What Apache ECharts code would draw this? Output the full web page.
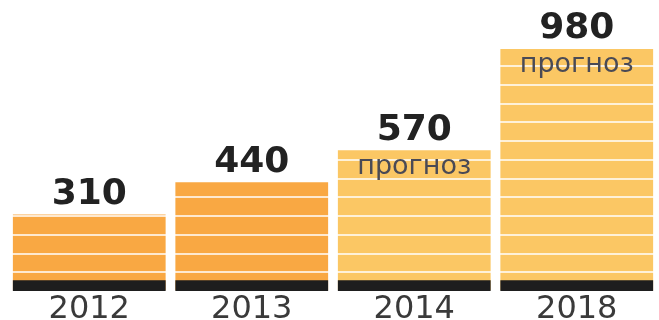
<!DOCTYPE html>
<html><head><meta charset="utf-8">
<script src="https://cdn.jsdelivr.net/npm/echarts@6/dist/echarts.min.js"></script>
<style>html,body{margin:0;padding:0;background:#fff}#c{width:659px;height:320px}</style>
</head><body><div id="c"></div>
<script>
const categories = ['2012', '2013', '2014', '2018'];
const values = [310, 440, 570, 980];
const notes = ['', '', 'прогноз', 'прогноз'];
const barColors = ['#F9A843', '#F9A843', '#FBC764', '#FBC764'];

const BASE_BAND = 44;   // height of the dark strip at the foot of each bar (axis units)
const chart = echarts.init(document.getElementById('c'));
chart.setOption({
  animation: false,
  grid: { left: 8, right: 1, top: 44, bottom: 29, containLabel: false, outerBoundsMode: 'none' },
  xAxis: {
    type: 'category', data: categories,
    axisLine: { show: false }, axisTick: { show: false },
    axisLabel: { margin: 3, fontFamily: 'DejaVu Sans', fontSize: 32, color: '#3a3a3a' }
  },
  yAxis: {
    type: 'value', min: 0, max: 1000, interval: 76, z: 3,
    axisLabel: { show: false }, axisLine: { show: false }, axisTick: { show: false },
    splitLine: { show: true, lineStyle: { color: 'rgba(255,255,255,0.75)', width: 2 } }
  },
  series: [
    { type: 'bar', z: 2, barCategoryGap: '6%', barGap: '-100%',
      data: values.map((v, i) => ({ value: v, itemStyle: { color: barColors[i] } })) },
    { type: 'bar', z: 4, barGap: '-100%', silent: true,
      data: categories.map(() => BASE_BAND), itemStyle: { color: '#1E1E1E' } },
    { type: 'bar', z: 5, barGap: '-100%', silent: true,
      data: values, itemStyle: { color: 'rgba(0,0,0,0)' },
      label: { show: true, position: 'top', distance: 2, fontFamily: 'DejaVu Sans', fontWeight: 'bold', fontSize: 36, color: '#222' } },
    { type: 'bar', z: 5, barGap: '-100%', silent: true,
      data: values, itemStyle: { color: 'rgba(0,0,0,0)' },
      label: { show: true, position: 'insideTop', distance: 3, fontFamily: 'DejaVu Sans', fontSize: 27, color: '#4a4a55',
        formatter: p => notes[p.dataIndex] } }
  ]
});
</script></body></html>
